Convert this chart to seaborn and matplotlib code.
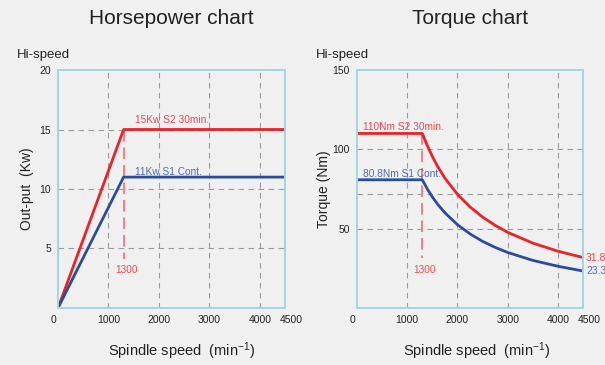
import numpy as np
import pandas as pd
import seaborn as sns
import matplotlib
matplotlib.use("Agg")
import matplotlib.pyplot as plt
from matplotlib.transforms import ScaledTranslation

# Spindle output (kW) versus speed
hp_speed = [0, 1300, 4500]
hp_s2 = [0, 15, 15]      # S2 30 min rating
hp_s1 = [0, 11, 11]      # S1 continuous rating

# Spindle torque (Nm) versus speed
tq_speed = [0, 1300, 1400, 1500, 1600, 1750, 2000, 2250, 2500, 2750, 3000, 3500, 4000, 4500]
tq_s2 = [110, 110, 102.3, 95.5, 89.5, 81.8, 71.6, 63.7, 57.3, 52.1, 47.7, 40.9, 35.8, 31.8]
tq_s1 = [80.8, 80.8, 75.0, 70.0, 65.6, 60.0, 52.5, 46.7, 42.0, 38.2, 35.0, 30.0, 26.3, 23.3]

base_speed = 1300
x_ticks = [0, 1000, 2000, 3000, 4000, 4500]
hp_yticks = [5, 10, 15, 20]
tq_yticks = [50, 100, 150]
tq_extra_grid = [71.6]

RED = "#e8232a"
BLUE = "#2b4c9b"
RED_TXT = "#ea4a50"
BLUE_TXT = "#4a6cb4"
FRAME = "#9fd8e0"
BG = "#f0f0f0"
GRID = "#9a9a9a"

sns.set_theme(style="white")
plt.rcParams["font.family"] = ["Liberation Sans", "DejaVu Sans"]
plt.rcParams["mathtext.fontset"] = "custom"
plt.rcParams["mathtext.rm"] = "Liberation Sans"
plt.rcParams["mathtext.it"] = "Liberation Sans"

fig = plt.figure(figsize=(6.05, 3.65), dpi=100, facecolor=BG)
ax1 = fig.add_axes([0.0959, 0.1562, 0.3752, 0.652])
ax2 = fig.add_axes([0.5901, 0.1562, 0.3736, 0.652])

hp = pd.DataFrame({"speed": hp_speed, "S2": hp_s2, "S1": hp_s1})
tq = pd.DataFrame({"speed": tq_speed, "S2": tq_s2, "S1": tq_s1})


def style_axes(ax, ymax, yticks, xlabel_x):
    ax.set_facecolor(BG)
    ax.set_xlim(0, 4500)
    ax.set_ylim(0, ymax)
    for s in ax.spines.values():
        s.set_color(FRAME)
        s.set_linewidth(1.4)
        s.set_zorder(5)
    for xv in x_ticks[1:-1]:
        ax.axvline(xv, color=GRID, lw=0.8, ls=(0, (5, 4)), zorder=1)
    for yv in yticks[:-1]:
        ax.axhline(yv, color=GRID, lw=0.8, ls=(0, (5, 4)), zorder=1)
    ax.set_xticks(x_ticks)
    ax.set_xticklabels([str(v) for v in x_ticks])
    ax.set_yticks(yticks)
    ax.set_yticklabels([str(v) for v in yticks])
    ax.tick_params(axis="both", length=0, labelsize=7.5, labelcolor="#222222")
    ax.tick_params(axis="x", pad=5)
    ax.tick_params(axis="y", pad=5)
    ticks = ax.xaxis.get_major_ticks()
    ticks[0].label1.set_transform(ticks[0].label1.get_transform()
                                  + ScaledTranslation(-5 / 100, 0, fig.dpi_scale_trans))
    ticks[-1].label1.set_transform(ticks[-1].label1.get_transform()
                                   + ScaledTranslation(6 / 100, 0, fig.dpi_scale_trans))
    ax.set_xlabel(r"Spindle speed  (min$^{\mathregular{-1}}$)", fontsize=10.5,
                  color="#222222", labelpad=11)
    ax.xaxis.label.set_x(xlabel_x)


# Horsepower chart
style_axes(ax1, 20, hp_yticks, 0.546)
sns.lineplot(data=hp, x="speed", y="S2", ax=ax1, color=RED, lw=2, zorder=4)
sns.lineplot(data=hp, x="speed", y="S1", ax=ax1, color=BLUE, lw=2, zorder=4)
ax1.plot([base_speed, base_speed], [hp_s2[1], 4.1], color="#f07f86", lw=1.4,
         ls=(0, (6, 3)), zorder=3)
ax1.text(base_speed + 60, 3.2, str(base_speed), color=RED_TXT, fontsize=7.2,
         ha="center", va="center")
ax1.text(1520, hp_s2[1] + 0.8, "15Kw S2 30min.", color=RED_TXT, fontsize=7.3,
         ha="left", va="center")
ax1.text(1520, hp_s1[1] + 0.45, "11Kw S1 Cont.", color=BLUE_TXT, fontsize=7.3,
         ha="left", va="center")
ax1.set_ylabel("Out-put  (Kw)", fontsize=10, color="#222222", labelpad=4)
ax1.set_title("Horsepower chart", fontsize=15, color="#222222", pad=33)

# Torque chart
style_axes(ax2, 150, tq_yticks, 0.531)
for yv in tq_extra_grid:
    ax2.axhline(yv, color=GRID, lw=0.8, ls=(0, (5, 4)), zorder=1)
sns.lineplot(data=tq, x="speed", y="S2", ax=ax2, color=RED, lw=2, zorder=4)
sns.lineplot(data=tq, x="speed", y="S1", ax=ax2, color=BLUE, lw=2, zorder=4)
ax2.plot([base_speed, base_speed], [tq_s2[1], 31.5], color="#f07f86", lw=1.4,
         ls=(0, (6, 3)), zorder=3)
ax2.text(base_speed + 40, 24, str(base_speed), color=RED_TXT, fontsize=7.2,
         ha="center", va="center")
ax2.text(110, tq_s2[1] + 4, "110Nm S2 30min.", color=RED_TXT, fontsize=7.3,
         ha="left", va="center")
ax2.text(110, tq_s1[1] + 3.5, "80.8Nm S1 Cont.", color=BLUE_TXT, fontsize=7.3,
         ha="left", va="center")
ax2.text(4560, tq_s2[-1], f"{tq_s2[-1]}", color=RED_TXT, fontsize=7.5,
         ha="left", va="center", clip_on=False)
ax2.text(4560, tq_s1[-1], f"{tq_s1[-1]}", color=BLUE_TXT, fontsize=7.5,
         ha="left", va="center", clip_on=False)
ax2.set_ylabel("Torque (Nm)", fontsize=10, color="#222222", labelpad=1)
ax2.set_title("Torque chart", fontsize=15, color="#222222", pad=33)

for ax in (ax1, ax2):
    ax.text(-0.18, 1.065, "Hi-speed", transform=ax.transAxes,
            fontsize=9.5, color="#222222", ha="left", va="center")

fig.savefig("out.png", dpi=100, facecolor=BG)
